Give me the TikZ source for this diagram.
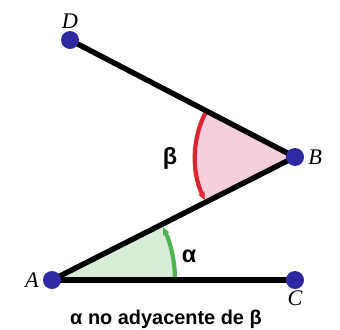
\documentclass[tikz,border=0pt]{standalone}
\usepackage{fontspec}
\newfontfamily\greeksans{Liberation Sans}
\newfontfamily\ptserif{Liberation Serif}
\usetikzlibrary{arrows.meta,positioning}
\definecolor{dotblue}{RGB}{48,40,160}
\definecolor{arcgreen}{RGB}{80,180,80}
\definecolor{fillgreen}{RGB}{216,236,216}
\definecolor{arcred}{RGB}{222,36,44}
\definecolor{fillpink}{RGB}{247,206,222}
\tikzset{
  >={Stealth[length=2.4mm,width=2.2mm]},
  dot/.style={circle,fill=dotblue,inner sep=0pt,minimum size=5.4mm},
  seg/.style={line width=4.6pt},
  pt/.style={font=\ptserif\itshape\fontsize{19}{21}\selectfont},
  ang/.style={font=\greeksans\bfseries\fontsize{20}{22}\selectfont},
  sweep/.style={->,line width=3.6pt,draw=#1},
}

\begin{document}
\begin{tikzpicture}[x=0.03cm,y=0.03cm]
  \useasboundingbox (0,0) rectangle (340,329);
  \coordinate (A) at (52,49);
  \coordinate (C) at (295,49);
  \coordinate (B) at (295,172);
  \coordinate (D) at (70,289);
  % angle sectors
  \fill[fillgreen] (A) -- ++(0:123) arc (0:26.85:123) -- cycle;
  \fill[fillpink] (B) -- ++(152.53:100) arc (152.53:206.85:100) -- cycle;
  \draw[sweep=arcgreen] (A) ++(0:123) arc (0:25.5:123);
  \draw[sweep=arcred] (B) ++(152.53:100) arc (152.53:205.5:100);
  % segments
  \draw[seg] (A) -- (C);
  \draw[seg] (A) -- (B) -- (D);
  \node[dot] (a) at (A) {};
  \node[dot] (c) at (C) {};
  \node[dot] (b) at (B) {};
  \node[dot] (d) at (D) {};
  \node[pt,left=0pt of a] {A};
  \node[pt,right=0pt of b] {B};
  \node[pt,below=-2pt of c] {C};
  \node[pt,above=-2pt of d] {D};
  \node[ang] (alpha) at (189,73) {α};
  \node[ang] (beta) at (170,171) {β};
  \node[ang,font=\greeksans\bfseries\fontsize{17}{19}\selectfont,anchor=base] (cap) at (166,5) {α no adyacente de β};
\end{tikzpicture}
\end{document}
